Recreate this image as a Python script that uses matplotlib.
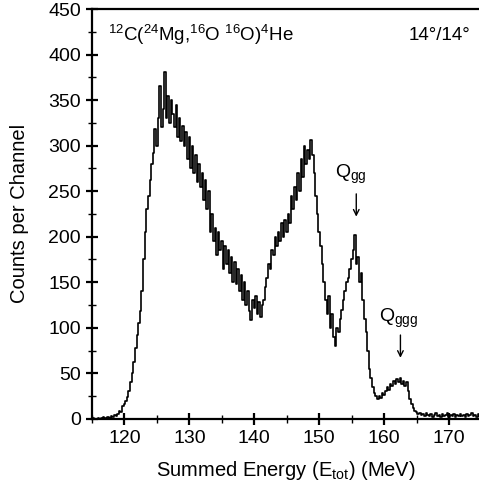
import numpy as np
import matplotlib
matplotlib.use("Agg")
import matplotlib.pyplot as plt
from matplotlib.ticker import MultipleLocator

plt.rcParams['font.family'] = ['Liberation Sans', 'DejaVu Sans']
plt.rcParams['mathtext.fontset'] = 'custom'
plt.rcParams['mathtext.rm'] = 'Liberation Sans'
plt.rcParams['mathtext.it'] = 'Liberation Sans'

# channel energies (MeV), 0.25 MeV steps from 115 to 175
e_start = 115.0
e_step = 0.25

# counts per channel
counts = [
    0, 1, 0, 0, 1, 0, 1, 2, 1, 0, 2, 1,            # 115.00 - 117.75
    3, 2, 4, 3,                                    # 118
    5, 9, 7, 14,                                   # 119
    16, 20, 24, 30,                                # 120
    40, 50, 62, 78,                                # 121
    92, 105, 118, 140,                             # 122
    175, 205, 230, 245,                            # 123
    262, 280, 292, 318,                            # 124
    300, 330, 365, 320,                            # 125
    340, 381, 330, 355,                            # 126
    325, 350, 335, 320,                            # 127
    345, 310, 330, 305,                            # 128
    322, 300, 315, 285,                            # 129
    310, 275, 300, 270,                            # 130
    290, 260, 280, 255,                            # 131
    270, 240, 262, 230,                            # 132
    250, 205, 225, 195,                            # 133
    210, 180, 205, 185,                            # 134
    195, 165, 190, 170,                            # 135
    185, 160, 178, 150,                            # 136
    172, 148, 165, 140,                            # 137
    158, 130, 150, 125,                            # 138
    140, 118, 108, 130,                            # 139
    122, 135, 115, 128,                            # 140
    112, 125, 130, 145,                            # 141
    155, 170, 165, 185,                            # 142
    180, 200, 190, 205,                            # 143
    195, 215, 200, 218,                            # 144
    205, 225, 215, 245,                            # 145
    230, 255, 240, 270,                            # 146
    250, 285, 265, 300,                            # 147
    280, 295, 285, 306,                            # 148
    290, 270, 245, 225,                            # 149
    205, 190, 170, 150,                            # 150
    130, 115, 135, 100,                            # 151
    115, 90, 80, 100,                              # 152
    95, 110, 120, 130,                             # 153
    140, 150, 155, 165,                            # 154
    175, 185, 202, 170,                            # 155
    178, 150, 160, 130,                            # 156
    110, 95, 75, 55,                               # 157
    45, 35, 28, 25,                                # 158
    22, 25, 23, 28,                                # 159
    26, 30, 35, 32,                                # 160
    38, 36, 42, 38,                                # 161
    44, 40, 45, 38,                                # 162
    42, 36, 40, 30,                                # 163
    22, 16, 12, 9,                                 # 164
    7, 5, 6, 4,                                    # 165
    5, 3, 6, 4, 3, 5, 2, 4, 6, 3, 4, 2,            # 166 - 168.75
    5, 3, 4, 6, 2, 4, 3, 5, 2, 4, 3, 5,            # 169 - 171.75
    3, 4, 2, 5, 3, 4, 6, 3, 4, 2, 5, 3, 4,         # 172 - 175
]
energy = e_start + e_step * np.arange(len(counts))

fig = plt.figure(figsize=(4.79, 4.87), dpi=100)
ax = fig.add_axes([0.192, 0.14, 0.808, 0.8415])

ax.step(energy, counts, where='mid', color='black', lw=1.2)

ax.set_xlim(115, 174.6)
ax.set_ylim(0, 450)
ax.spines['right'].set_visible(False)
for s in ['left', 'bottom', 'top']:
    ax.spines[s].set_linewidth(1.6)

ax.xaxis.set_major_locator(MultipleLocator(10))
ax.xaxis.set_minor_locator(MultipleLocator(5))
ax.yaxis.set_major_locator(MultipleLocator(50))
ax.yaxis.set_minor_locator(MultipleLocator(25))
ax.tick_params(which='major', direction='inout', length=9, width=1.6,
               labelsize=14, top=False, right=False)
ax.tick_params(which='minor', direction='inout', length=6, width=1.0,
               top=False, right=False)

ax.set_xlabel('Summed Energy (E$_{\\mathrm{tot}}$) (MeV)', fontsize=14.5, labelpad=9)
ax.set_ylabel('Counts per Channel', fontsize=14.5, labelpad=14)

ax.text(117.4, 421, '$^{12}$C($^{24}$Mg,$^{16}$O $^{16}$O)$^{4}$He',
        fontsize=13.5, ha='left', va='center')
ax.text(173.3, 421, '14°/14°', fontsize=13.5, ha='right', va='center')

# peak markers
ax.text(154.8, 268, 'Q$_{\\mathrm{gg}}$', fontsize=14, ha='center', va='center')
ax.annotate('', xy=(155.7, 222), xytext=(155.7, 247),
            arrowprops=dict(arrowstyle='->', lw=1.0, color='black',
                            shrinkA=0, shrinkB=0))
ax.text(162.2, 110, 'Q$_{\\mathrm{ggg}}$', fontsize=14, ha='center', va='center')
ax.annotate('', xy=(162.5, 67), xytext=(162.5, 92),
            arrowprops=dict(arrowstyle='->', lw=1.0, color='black',
                            shrinkA=0, shrinkB=0))

fig.savefig('out.png', dpi=100)
